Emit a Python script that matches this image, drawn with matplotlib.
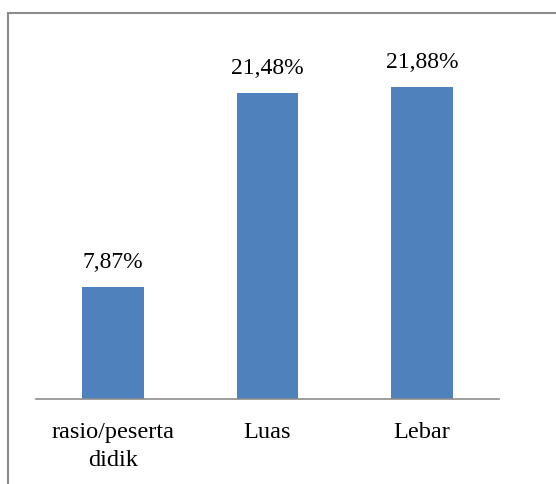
import matplotlib
matplotlib.use("Agg")
import matplotlib.pyplot as plt
from matplotlib.patches import Rectangle

categories = ["rasio/peserta\ndidik", "Luas", "Lebar"]
values = [7.87, 21.48, 21.88]
value_labels = ["7,87%", "21,48%", "21,88%"]

W, H = 556, 485
plt.rcParams['font.family'] = ['Liberation Serif', 'DejaVu Serif']
fig = plt.figure(figsize=(W / 100, H / 100), dpi=100)

# outer chart border (right and bottom edges lie outside the image)
fig.patches.append(Rectangle((8 / W, -0.1), 1.2, (H - 14) / H + 0.1,
                             transform=fig.transFigure, fill=False,
                             edgecolor="#8c8c8c", linewidth=1.5))

ax = fig.add_axes([36 / W, (H - 400) / H, (499 - 36) / W, (400 - 44) / H])
x = range(len(categories))
ax.bar(x, values, width=0.4, color="#4f81bd")
ax.set_xlim(-0.5, 2.5)
ax.set_ylim(0, 25)
ax.set_xticks(list(x))
ax.set_xticklabels(categories, fontsize=17.5, linespacing=1.4)
ax.tick_params(axis="x", length=0, pad=16)
ax.set_yticks([])
for s in ["top", "right", "left"]:
    ax.spines[s].set_visible(False)
ax.spines["bottom"].set_color("#8c8c8c")
ax.spines["bottom"].set_linewidth(1.2)

for xi, v, lab in zip(x, values, value_labels):
    ax.annotate(lab, (xi, v), xytext=(0, 11), textcoords="offset points",
                ha="center", va="bottom", fontsize=17)

fig.savefig("out.png", dpi=100)
